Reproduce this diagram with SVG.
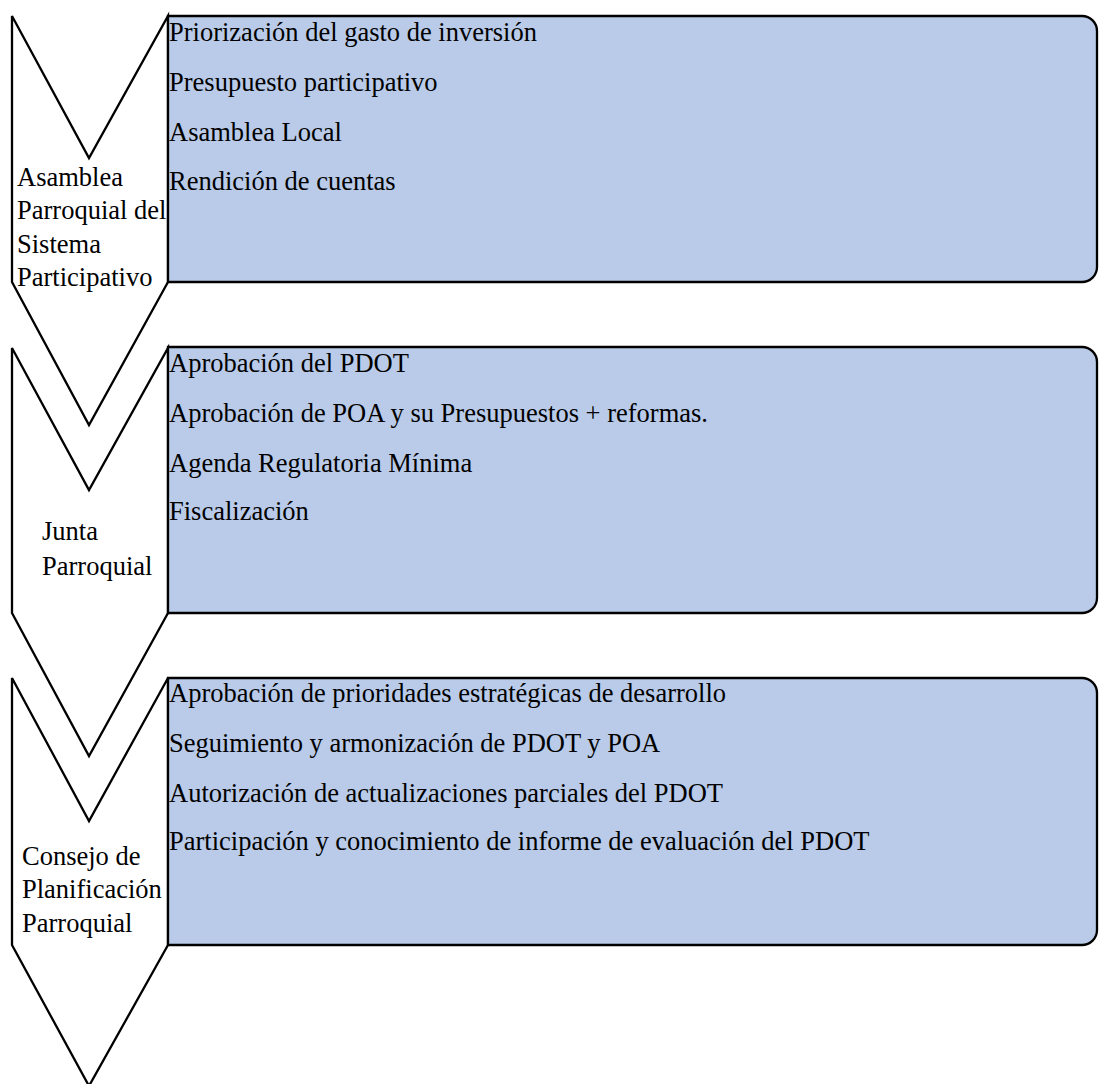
<svg xmlns="http://www.w3.org/2000/svg" width="1099" height="1084" viewBox="0 0 1099 1084">
<style>
.chev{fill:#FFFFFF;stroke:#000000;stroke-width:2.3;stroke-linejoin:miter}
.box{fill:#B9CBE8;stroke:#000000;stroke-width:2.3}
text{font-family:"Liberation Serif","Times New Roman",serif;font-size:26.5px;fill:#000000}
</style>
<rect width="1099" height="1084" fill="#FFFFFF"/>
<g id="connectors"></g>
<g id="chevron1">
<path class="chev" d="M12,16 L89,158 L168,16 L168,282 L89,425 L12,282 Z"/>
<text x="17" y="186">Asamblea</text>
<text x="17" y="219">Parroquial del</text>
<text x="17" y="253">Sistema</text>
<text x="17" y="286">Participativo</text>
</g>
<g id="box1">
<path class="box" d="M168,16 H1082 A15,15 0 0 1 1097,31 V267 A15,15 0 0 1 1082,282 H168 Z"/>
<text x="169" y="41">Priorización del gasto de inversión</text>
<text x="169" y="91">Presupuesto participativo</text>
<text x="169" y="141">Asamblea Local</text>
<text x="169" y="190">Rendición de cuentas</text>
</g>
<g id="chevron2">
<path class="chev" d="M12,348 L89,490 L168,348 L168,613 L89,756 L12,613 Z"/>
<text x="42" y="540">Junta</text>
<text x="42" y="575">Parroquial</text>
</g>
<g id="box2">
<path class="box" d="M168,347 H1082 A15,15 0 0 1 1097,362 V598 A15,15 0 0 1 1082,613 H168 Z"/>
<text x="169" y="372">Aprobación del PDOT</text>
<text x="169" y="422">Aprobación de POA y su Presupuestos + reformas.</text>
<text x="169" y="472">Agenda Regulatoria Mínima</text>
<text x="169" y="520">Fiscalización</text>
</g>
<g id="chevron3">
<path class="chev" d="M12,678 L89,821 L168,678 L168,945 L89,1086 L12,945 Z"/>
<text x="22" y="865">Consejo de</text>
<text x="22" y="898">Planificación</text>
<text x="22" y="932">Parroquial</text>
</g>
<g id="box3">
<path class="box" d="M168,678 H1082 A15,15 0 0 1 1097,693 V930 A15,15 0 0 1 1082,945 H168 Z"/>
<text x="169" y="702">Aprobación de prioridades estratégicas de desarrollo</text>
<text x="169" y="752">Seguimiento y armonización de PDOT y POA</text>
<text x="169" y="802">Autorización de actualizaciones parciales del PDOT</text>
<text x="169" y="850">Participación y conocimiento de informe de evaluación del PDOT</text>
</g>
</svg>
